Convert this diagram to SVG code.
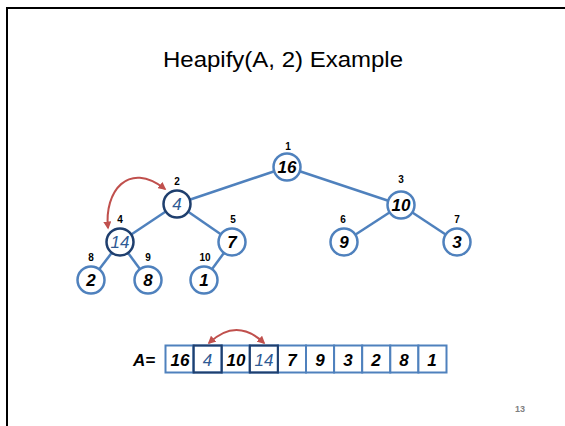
<svg xmlns="http://www.w3.org/2000/svg" width="565" height="426" viewBox="0 0 565 426">
<defs>
<style>
.edge{stroke:#4F81BD;stroke-width:2.5;fill:none}
.node{fill:#fff;stroke:#4F81BD;stroke-width:2.5}
.hl{fill:#fff;stroke:#1F3F6E;stroke-width:2.5}
.val{font-family:"Liberation Sans",Arial,sans-serif;font-weight:bold;font-style:italic;font-size:17px;text-anchor:middle;fill:#000}
.valhl{fill:#2F5A94;font-weight:normal}
.idx{font-family:"Liberation Sans",Arial,sans-serif;font-weight:bold;font-size:10px;text-anchor:middle;fill:#000}
.cell{fill:#fff;stroke:#4F81BD;stroke-width:2}
.cellhl{fill:none;stroke:#1F3F6E;stroke-width:2}
.red{stroke:#C0504D;stroke-width:2;fill:none}
</style>
<marker id="ah" viewBox="0 0 10 10" refX="8" refY="5" markerWidth="4" markerHeight="4" orient="auto-start-reverse">
<path d="M0,0 L10,5 L0,10 z" fill="#C0504D"/>
</marker>
</defs>
<rect width="565" height="426" fill="#fff"/>
<path d="M7,426 V8 H565" fill="none" stroke="#000" stroke-width="2"/>
<text x="283" y="67" font-family="'Liberation Sans',Arial,sans-serif" font-size="22" text-anchor="middle" fill="#000" textLength="240" lengthAdjust="spacingAndGlyphs">Heapify(A, 2) Example</text>
<g id="connectors">
<line class="edge" x1="287" y1="167" x2="177" y2="204"/>
<line class="edge" x1="287" y1="167" x2="401" y2="205"/>
<line class="edge" x1="177" y1="204" x2="120" y2="242"/>
<line class="edge" x1="177" y1="204" x2="232" y2="242"/>
<line class="edge" x1="401" y1="205" x2="344" y2="242"/>
<line class="edge" x1="401" y1="205" x2="457" y2="242"/>
<line class="edge" x1="120" y1="242" x2="91" y2="280"/>
<line class="edge" x1="120" y1="242" x2="148" y2="280"/>
<line class="edge" x1="232" y1="242" x2="204" y2="280"/>
<path class="red" d="M108,228 C104,192 128,160 165,189" marker-start="url(#ah)" marker-end="url(#ah)"/>
</g>
<g id="n1"><circle class="node" cx="287" cy="167" r="13.5"/><text class="val" x="287" y="173">16</text><text class="idx" x="288" y="150">1</text></g>
<g id="n2"><circle class="hl" cx="177" cy="204" r="13.5"/><text class="val valhl" x="177" y="210">4</text><text class="idx" x="177" y="185">2</text></g>
<g id="n3"><circle class="node" cx="401" cy="205" r="13.5"/><text class="val" x="401" y="211">10</text><text class="idx" x="401" y="183">3</text></g>
<g id="n4"><circle class="hl" cx="120" cy="242" r="13.5"/><text class="val valhl" x="120" y="248">14</text><text class="idx" x="120" y="223">4</text></g>
<g id="n5"><circle class="node" cx="232" cy="242" r="13.5"/><text class="val" x="232" y="248">7</text><text class="idx" x="233" y="223">5</text></g>
<g id="n6"><circle class="node" cx="344" cy="242" r="13.5"/><text class="val" x="344" y="248">9</text><text class="idx" x="343" y="223">6</text></g>
<g id="n7"><circle class="node" cx="457" cy="242" r="13.5"/><text class="val" x="457" y="248">3</text><text class="idx" x="457" y="223">7</text></g>
<g id="n8"><circle class="node" cx="91" cy="280" r="13.5"/><text class="val" x="91" y="286">2</text><text class="idx" x="91" y="261">8</text></g>
<g id="n9"><circle class="node" cx="148" cy="280" r="13.5"/><text class="val" x="148" y="286">8</text><text class="idx" x="148" y="261">9</text></g>
<g id="n10"><circle class="node" cx="204" cy="280" r="13.5"/><text class="val" x="204" y="286">1</text><text class="idx" x="205" y="261">10</text></g>
<g id="array">
<text class="val" x="144" y="366">A=</text>
<rect class="cell" x="165.5" y="345.5" width="28.1" height="27"/>
<rect class="cell" x="193.6" y="345.5" width="28.1" height="27"/>
<rect class="cell" x="221.7" y="345.5" width="28.1" height="27"/>
<rect class="cell" x="249.8" y="345.5" width="28.1" height="27"/>
<rect class="cell" x="277.9" y="345.5" width="28.1" height="27"/>
<rect class="cell" x="306" y="345.5" width="28.1" height="27"/>
<rect class="cell" x="334.1" y="345.5" width="28.1" height="27"/>
<rect class="cell" x="362.2" y="345.5" width="28.1" height="27"/>
<rect class="cell" x="390.3" y="345.5" width="28.1" height="27"/>
<rect class="cell" x="418.4" y="345.5" width="28.1" height="27"/>
<rect class="cellhl" x="193.6" y="345.5" width="28.1" height="27"/>
<rect class="cellhl" x="249.8" y="345.5" width="28.1" height="27"/>
<text class="val" x="180" y="365.5">16</text>
<text class="val valhl" x="207.5" y="365.5">4</text>
<text class="val" x="236" y="365.5">10</text>
<text class="val valhl" x="264" y="365.5">14</text>
<text class="val" x="292" y="365.5">7</text>
<text class="val" x="320" y="365.5">9</text>
<text class="val" x="348" y="365.5">3</text>
<text class="val" x="376" y="365.5">2</text>
<text class="val" x="404" y="365.5">8</text>
<text class="val" x="432" y="365.5">1</text>
<path class="red" d="M209,343 Q236.5,317 264,343" marker-start="url(#ah)" marker-end="url(#ah)"/>
</g>
<text x="520" y="412" font-family="'Liberation Sans',Arial,sans-serif" font-size="9" font-weight="bold" fill="#7F7F7F" text-anchor="middle">13</text>
</svg>
